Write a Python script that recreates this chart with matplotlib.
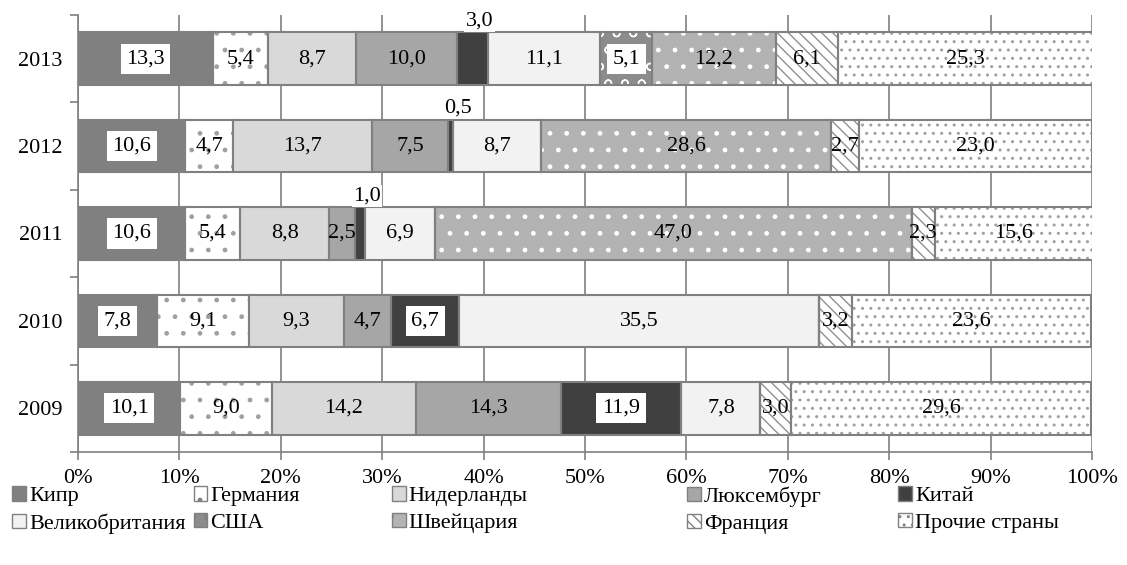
import numpy as np
import matplotlib
matplotlib.use("Agg")
import matplotlib.pyplot as plt
from matplotlib.patches import Patch

plt.rcParams['font.family'] = ['Liberation Serif', 'DejaVu Serif']
plt.rcParams['hatch.linewidth'] = 1.0

years = ['2009', '2010', '2011', '2012', '2013']
countries = ['Кипр', 'Германия', 'Нидерланды', 'Люксембург', 'Китай',
             'Великобритания', 'США', 'Швейцария', 'Франция', 'Прочие страны']

# shares by year (2009 .. 2013), %
cyprus      = [10.1, 7.8, 10.6, 10.6, 13.3]
germany     = [9.0, 9.1, 5.4, 4.7, 5.4]
netherlands = [14.2, 9.3, 8.8, 13.7, 8.7]
luxembourg  = [14.3, 4.7, 2.5, 7.5, 10.0]
china       = [11.9, 6.7, 1.0, 0.5, 3.0]
uk          = [7.8, 35.5, 6.9, 8.7, 11.1]
usa         = [0.0, 0.0, 0.0, 0.0, 5.1]
switzerland = [0.0, 0.0, 47.0, 28.6, 12.2]
france      = [3.0, 3.2, 2.3, 2.7, 6.1]
others      = [29.6, 23.6, 15.6, 23.0, 25.3]

series = [cyprus, germany, netherlands, luxembourg, china,
          uk, usa, switzerland, france, others]

# fill colour, hatch colour, hatch pattern
faces = ['#808080', 'white', '#d9d9d9', '#a6a6a6', '#404040',
         '#f2f2f2', '#8c8c8c', '#b3b3b3', 'white', 'white']
hcols = ['none', '#a0a0a0', 'none', 'none', 'none',
         'none', 'white', 'white', '#909090', '#a0a0a0']
hatches = [None, '.', None, None, None, None, 'o', '.', '\\\\\\', '..']
boxed = {0, 4, 6}   # series whose labels sit on a white box

edge = '#808080'
fs = 16

fig = plt.figure(figsize=(11.27, 5.65), dpi=100)
ax = fig.add_axes([0.0692, 0.2, 0.8998, 0.7735])

y = np.arange(len(years))
left = np.zeros(len(years))
for i, vals in enumerate(series):
    vals = np.array(vals)
    # fill + hatch, then the outline on top
    ax.barh(y, vals, left=left, height=0.6, color=faces[i],
            edgecolor=hcols[i], linewidth=0, hatch=hatches[i], zorder=2)
    ax.barh(y, vals, left=left, height=0.6, color='none', edgecolor=edge,
            linewidth=1.5, zorder=3)
    for j, v in enumerate(vals):
        if v == 0:
            continue
        txt = f'{v:.1f}'.replace('.', ',')
        cx = left[j] + v / 2
        if i == 4 and v < 4:
            # small China shares: label above the bar
            ax.text(cx + 0.7, y[j] + 0.43, txt, ha='center', va='center',
                    fontsize=fs, zorder=4,
                    bbox=dict(facecolor='white', edgecolor='none', pad=1))
        elif i in boxed:
            ax.text(cx, y[j], txt, ha='center', va='center', fontsize=fs,
                    zorder=4, bbox=dict(facecolor='white', edgecolor='none',
                                        pad=4))
        else:
            ax.text(cx, y[j], txt, ha='center', va='center', fontsize=fs,
                    zorder=4)
    left += vals

ax.set_xlim(0, 100)
ax.set_ylim(-0.5, 4.5)
ax.set_xticks(np.arange(0, 101, 10))
ax.set_xticklabels([f'{t}%' for t in range(0, 101, 10)], fontsize=fs)
ax.set_yticks(y)
ax.set_yticklabels(years, fontsize=fs)
ax.set_yticks(np.arange(-0.5, 4.6, 1), minor=True)
ax.tick_params(axis='y', which='major', length=0, pad=11)
ax.tick_params(axis='y', which='minor', length=6, color=edge, width=1.2)
ax.tick_params(axis='x', length=6, color=edge, width=1.2, pad=6)
ax.grid(axis='x', color=edge, linewidth=1.2, zorder=0)
ax.set_axisbelow(True)
for s in ['top', 'right']:
    ax.spines[s].set_visible(False)
for s in ['left', 'bottom']:
    ax.spines[s].set_color(edge)
    ax.spines[s].set_linewidth(1.2)

# legend: five columns of two entries
col_x = [0.011, 0.172, 0.348, 0.61, 0.797]
for c in range(5):
    handles = []
    for i in (c, c + 5):
        handles.append(Patch(facecolor=faces[i], edgecolor=edge,
                             hatch=hatches[i], label=countries[i]))
    fig.legend(handles=handles, loc='upper left',
               bbox_to_anchor=(col_x[c], 0.139), frameon=False,
               fontsize=fs, handlelength=0.6, handleheight=0.6,
               handletextpad=0.15, labelspacing=0.3, borderpad=0,
               borderaxespad=0)

fig.savefig('out.png', dpi=100)
